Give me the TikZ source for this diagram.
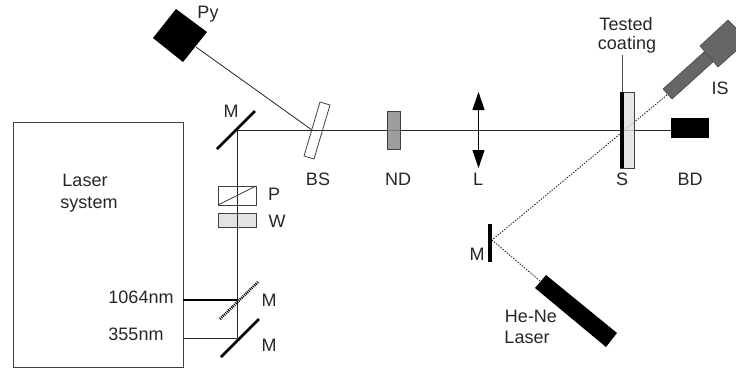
\documentclass[tikz,border=0pt]{standalone}
\usepackage{fontspec}
\setmainfont{Liberation Sans}
\usetikzlibrary{arrows.meta}
\begin{document}
\begin{tikzpicture}[x=1pt,y=-1pt,
    label/.style={inner sep=0pt,outer sep=0pt,font=\fontsize{18}{20}\selectfont,text=black!85},
    beam/.style={draw=black!85,line width=0.8pt},
    probe/.style={draw=black!85,line width=0.9pt,dash pattern=on 1.4pt off 1.4pt},
    mirror/.style={draw=black,line width=2.6pt},
    optic/.style={draw=black!75,line width=0.8pt}]

    \useasboundingbox (0, 0) rectangle (736, 368);

    % fixed points of the beams
    \coordinate (m1) at (237, 130);
    \coordinate (m2) at (237, 300);
    \coordinate (m3) at (237, 338);
    \coordinate (box1) at (183, 300);
    \coordinate (box2) at (183, 338);
    \coordinate (bs) at (312, 130);
    \coordinate (py) at (196, 47);
    \coordinate (bd) at (671, 130);
    \coordinate (is) at (667, 95);
    \coordinate (m4) at (492, 240);
    \coordinate (he) at (540, 281);
    \coordinate (s1) at (622, 55);
    \coordinate (s2) at (622, 92);
    \coordinate (l1) at (478.5, 92);
    \coordinate (l2) at (478.5, 168);

    \draw[draw=black!75,line width=0.9pt] (13, 122) rectangle (183, 367);

    % beams
    \draw[beam] (box2) -- (m3);
    \draw[beam] (m3) -- (m1);
    \draw[beam] (m1) -- (bd);
    \draw[beam] (py) -- (bs);
    \draw[draw=black,line width=1.5pt] (box1) -- (m2);
    \draw[probe] (is) -- (m4);
    \draw[probe] (m4) -- (he);
    \draw[draw=black!70,line width=0.8pt] (s1) -- (s2);

    % mirrors
    \draw[mirror] (217, 149) -- (255, 111);
    \draw[mirror] (221, 357) -- (259, 319);
    \draw[draw=black,line width=2.6pt,dash pattern=on 1pt off 1pt] (220, 319) -- (258, 282);
    \draw[draw=black,line width=3.5pt] (490, 224) -- (490, 262);

    % optics
    \draw[optic] (218, 186) rectangle (256, 205);
    \draw[optic] (218, 205) -- (256, 186);
    \draw[optic,fill=black!12,fill opacity=0.9] (218, 213) rectangle (256, 227);
    \draw[beam] (237, 205) -- (237, 232);
    \draw[optic] (320, 102) -- (330, 105) -- (314, 159) -- (304, 156) -- cycle;
    \draw[optic,fill=black!45,fill opacity=0.85] (387, 111) rectangle (400, 149);
    \draw[draw=black,line width=1.1pt,{Triangle[width=12pt,length=18pt]}-{Triangle[width=12pt,length=18pt]}] (l1) -- (l2);

    % sample
    \draw[optic,fill=black!12,fill opacity=0.8] (620, 92) rectangle (634, 168);
    \fill[black] (620, 92) rectangle (624, 168);

    % black and grey boxes
    \fill[black] (176, 9) -- (207, 32) -- (183, 62) -- (153, 38) -- cycle;
    \fill[black] (671, 118) rectangle (709, 138);
    \fill[black] (546, 275) -- (617, 333) -- (606, 347) -- (535, 288) -- cycle;
    \draw[draw=black!70,fill=black!60,line width=0.6pt] (663, 89) -- (672, 99) -- (714, 61) -- (704, 52) -- cycle;
    \draw[draw=black!70,fill=black!60,line width=0.6pt] (700, 46) -- (728, 20) -- (737, 29) -- (737, 50) -- (718, 67) -- cycle;

    \node[label] (lpy) at (208, 14) {Py};
    \node[label] (lm1) at (231, 111) {M};
    \node[label] (lbs) at (318, 179) {BS};
    \node[label] (lnd) at (398, 179) {ND};
    \node[label] (ll) at (478, 179) {L};
    \node[label] (ls) at (622, 179) {S};
    \node[label] (lbd) at (690, 179) {BD};
    \node[label] (lis) at (720, 88) {IS};
    \node[label] (lt1) at (626, 24) {Tested};
    \node[label] (lt2) at (627, 45) {coating};
    \node[label] (lp) at (274, 194) {P};
    \node[label] (lw) at (277, 221) {W};
    \node[label] (lm2) at (269, 300) {M};
    \node[label] (lm3) at (269, 345) {M};
    \node[label] (l1064) at (141, 297) {1064nm};
    \node[label] (l355) at (136, 334) {355nm};
    \node[label] (lls1) at (85, 180) {Laser};
    \node[label] (lls2) at (89, 205) {system};
    \node[label] (lm4) at (477, 254) {M};
    \node[label] (lhe) at (531, 316) {He-Ne};
    \node[label] (lla) at (527, 337) {Laser};

\end{tikzpicture}
\end{document}
